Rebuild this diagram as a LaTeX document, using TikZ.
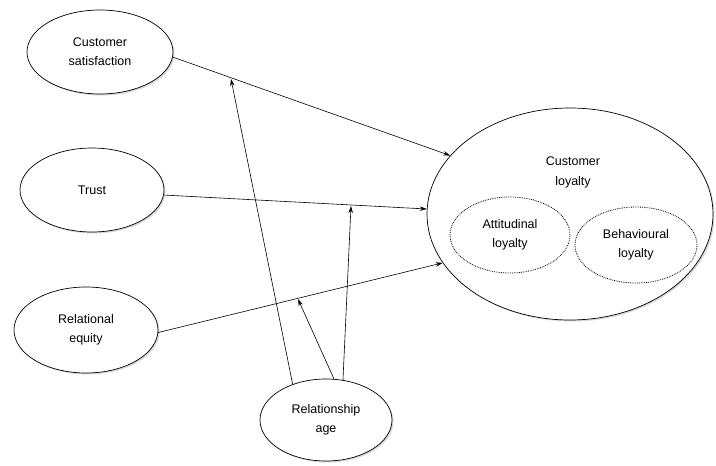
\documentclass[tikz,border=0pt]{standalone}
\usepackage{fontspec}
\setmainfont{Liberation Sans}
\usetikzlibrary{shapes.geometric,arrows.meta,shadows}
\begin{document}
\begin{tikzpicture}[x=1pt,y=-1pt,
  oval/.style={ellipse,draw,line width=0.7pt,fill=white,inner sep=0pt,align=center,
    font=\fontsize{12.5}{19}\selectfont,
    drop shadow={shadow xshift=1.5pt,shadow yshift=-1.5pt,fill=black!25,opacity=0.6}},
  sub/.style={ellipse,draw,densely dotted,line width=0.8pt,inner sep=0pt,align=center,
    font=\fontsize{12.5}{19}\selectfont},
  arr/.style={line width=0.6pt,-{Stealth[length=7pt,width=4.5pt]}}]
\useasboundingbox (0,0) rectangle (716,466);
\node[oval,minimum width=146pt,minimum height=84pt] (sat) at (100,52) {Customer\\satisfaction};
\node[oval,minimum width=144pt,minimum height=84pt] (tru) at (92,190) {Trust};
\node[oval,minimum width=144pt,minimum height=86pt] (equ) at (86,330) {Relational\\equity};
\node[oval,minimum width=132pt,minimum height=82pt] (age) at (326,420) {Relationship\\age};
\node[oval,minimum width=286pt,minimum height=212pt] (loy) at (570,214) {};
\node[font=\fontsize{12.5}{20}\selectfont,align=center] (loyt) at (573,172) {Customer\\loyalty};
\node[sub,minimum width=120pt,minimum height=76pt] (att) at (510,235) {Attitudinal\\loyalty};
\node[sub,minimum width=122pt,minimum height=76pt] (beh) at (636,245) {Behavioural\\loyalty};
\coordinate (m1) at (231,79);
\coordinate (m2) at (351,206);
\coordinate (m3) at (298,299);
\draw[arr] (sat.-4) -- (loy.154);
\draw[arr] (tru.-4) -- (loy.178);
\draw[arr] (equ.-2) -- (loy.201);
\draw[arr] (age.133) -- (m1);
\draw[arr] (age.79) -- (m3);
\draw[arr] (age.67) -- (m2);
\end{tikzpicture}
\end{document}
